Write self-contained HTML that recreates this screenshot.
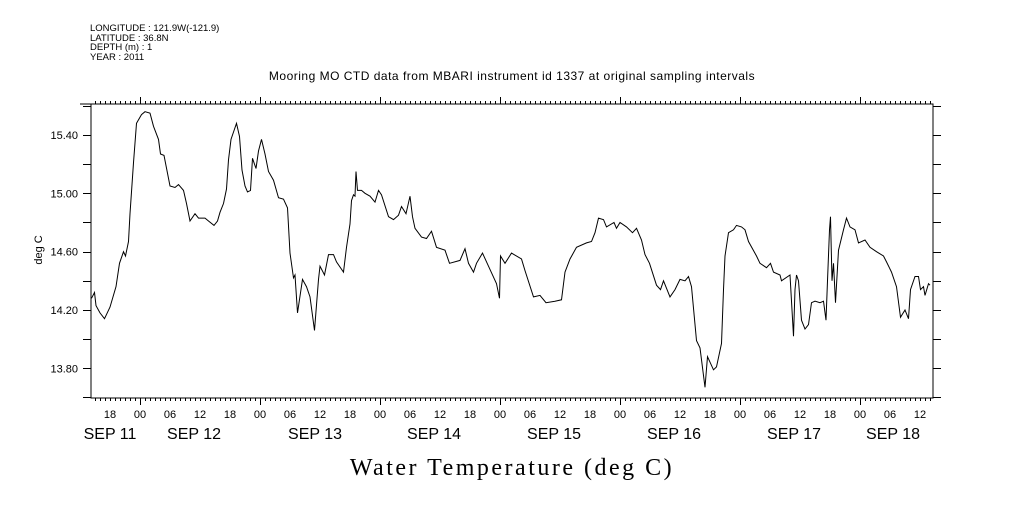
<!DOCTYPE html>
<html><head><meta charset="utf-8"><style>
body{margin:0;background:#fff;width:1009px;height:504px;overflow:hidden}
svg text{font-family:"Liberation Sans",sans-serif;fill:#000}
</style></head><body>
<svg id="chart" width="1009" height="504" viewBox="0 0 1009 504" xmlns="http://www.w3.org/2000/svg">
<g font-size="9.5">
<text x="90" y="31">LONGITUDE : 121.9W(-121.9)</text>
<text x="90" y="41">LATITUDE : 36.8N</text>
<text x="90" y="50">DEPTH (m) : 1</text>
<text x="90" y="60">YEAR : 2011</text>
</g>
<text x="512" y="80" font-size="12" text-anchor="middle" letter-spacing="0.5">Mooring MO CTD data from MBARI instrument id 1337 at original sampling intervals</text>
<text x="0" y="0" font-size="11" text-anchor="middle" transform="translate(42,250) rotate(-90)">deg C</text>
<text x="512" y="475" font-size="24" text-anchor="middle" style="font-family:'Liberation Serif',serif" letter-spacing="2.5">Water Temperature (deg C)</text>
<rect x="91" y="104" width="842" height="294" fill="none" stroke="#000" stroke-width="1"/>
<line x1="80" y1="104" x2="91" y2="104" stroke="#000"/>
<g id="axes"></g>
<path id="series" fill="none" stroke="#000" stroke-width="1"/>
</svg>
<script>
// hours since Sep 11 00:00
const hours=[14.3,14.9,15.2,16,16.9,18,19.2,19.9,20.7,21.1,21.7,22,22.7,23.3,24.3,25,26,26.7,27.7,28.1,28.8,30,31,31.7,32.7,33.3,34,35,35.7,37,37.7,38.8,39.5,40,40.7,41.3,41.7,42.2,42.8,43.3,43.9,44.4,45,45.5,46.1,46.5,47.2,47.7,48.3,49,49.7,50.7,51.7,52.7,53.5,54,54.7,55,55.5,56.5,57.3,58,58.9,59.7,60,60.9,61.7,62.7,63.3,64.7,65.3,66,66.3,66.7,67,67.2,67.5,68.3,69,70,71,71.7,72.3,73.7,74.7,75.7,76.3,77.2,78,78.5,79,80.3,81.3,82.3,83.3,85,85.9,88,89,89.7,90.7,91.3,92.5,93.7,95.3,95.9,96.1,97,98.3,100.3,101,102.7,104,105.2,107,108.3,109,110,111.3,113.3,114.3,115,115.7,116.7,117.3,118.8,119.3,120,121.3,122.5,123.3,124.3,125,125.9,127.3,128.1,128.7,130,131,132,133,133.7,134.3,135.3,136,137,137.5,138.7,139.3,140.3,140.7,141,141.7,142.7,143.3,144.3,145,145.7,147.3,148,149.3,150.1,150.7,152,152.3,154,154.7,155,155.3,155.7,156.3,157,157.7,158.3,159,160,160.7,161.2,161.5,161.9,162.1,162.4,162.7,163.1,163.7,164.7,165.3,166,167,167.7,169,170,171.3,172.7,173.3,174.3,175.3,176.1,177,177.7,178.1,179,179.7,180.1,180.7,181,181.7,182];
const temps=[14.28,14.32,14.23,14.18,14.14,14.22,14.36,14.52,14.60,14.57,14.67,14.86,15.21,15.48,15.54,15.56,15.55,15.46,15.37,15.27,15.26,15.05,15.04,15.06,15.02,14.93,14.81,14.86,14.83,14.83,14.81,14.78,14.81,14.87,14.93,15.03,15.23,15.37,15.43,15.48,15.39,15.16,15.05,15.01,15.02,15.24,15.17,15.29,15.37,15.27,15.15,15.09,14.97,14.96,14.90,14.59,14.42,14.44,14.18,14.41,14.36,14.29,14.06,14.41,14.50,14.44,14.58,14.58,14.53,14.46,14.63,14.79,14.95,14.99,14.98,15.15,15.02,15.02,15.00,14.98,14.94,15.02,14.99,14.84,14.82,14.85,14.91,14.86,14.98,14.84,14.76,14.70,14.69,14.74,14.63,14.61,14.52,14.54,14.62,14.52,14.46,14.52,14.59,14.50,14.38,14.28,14.57,14.52,14.59,14.55,14.47,14.29,14.30,14.25,14.26,14.27,14.46,14.55,14.63,14.66,14.67,14.73,14.83,14.82,14.77,14.80,14.76,14.80,14.77,14.73,14.76,14.68,14.58,14.52,14.37,14.34,14.40,14.29,14.34,14.41,14.40,14.43,14.36,13.99,13.94,13.67,13.88,13.79,13.81,13.97,14.34,14.57,14.73,14.75,14.78,14.77,14.75,14.67,14.57,14.52,14.49,14.52,14.46,14.44,14.40,14.44,14.02,14.34,14.44,14.40,14.13,14.07,14.10,14.25,14.26,14.25,14.26,14.13,14.40,14.75,14.84,14.40,14.52,14.25,14.61,14.75,14.83,14.77,14.75,14.66,14.68,14.63,14.60,14.57,14.53,14.46,14.36,14.15,14.20,14.14,14.34,14.43,14.43,14.34,14.36,14.30,14.38,14.37];
const yTickValues=[13.8,14.2,14.6,15.0,15.4];
const yTickLabels=["13.80","14.20","14.60","15.00","15.40"];
const hourLabels=["18","00","06","12","18","00","06","12","18","00","06","12","18","00","06","12","18","00","06","12","18","00","06","12","18","00","06","12"];
const dayLabels=["SEP 11","SEP 12","SEP 13","SEP 14","SEP 15","SEP 16","SEP 17","SEP 18"];

const X0=91,X1=933,Y0=104,Y1=398;
function xs(h){return 20+5*h;}
function ys(v){return 135+(15.4-v)*145.83;}
const NS="http://www.w3.org/2000/svg";
const axes=document.getElementById('axes');
function mk(tag,attrs){const e=document.createElementNS(NS,tag);for(const k in attrs)e.setAttribute(k,attrs[k]);axes.appendChild(e);return e;}
for(let v=13.6;v<=15.61;v+=0.2){
  const y=Math.round(ys(v))+0.5;
  const t=mk('line',{x1:83,y1:y,x2:X0,y2:y,stroke:'#000'});
  
  
  const r=mk('line',{x1:X1,y1:y,x2:X1+8,y2:y,stroke:'#000'});
  
  
}
yTickValues.forEach((v,i)=>{
  const t=mk('text',{x:78,y:ys(v)+4,'font-size':11,'text-anchor':'end'});
  t.textContent=yTickLabels[i];
  
  
});
for(let h=15;h<=182;h++){
  const x=xs(h)+0.5;
  const major=(h%24===0);
  const len=major?7:3;
  const a=mk('line',{x1:x,y1:Y0-len,x2:x,y2:Y0,stroke:'#000'});
  
  
  const b=mk('line',{x1:x,y1:Y1,x2:x,y2:Y1+len,stroke:'#000'});
  
  
}
hourLabels.forEach((lab,i)=>{
  const h=18+6*i;
  const t=mk('text',{x:xs(h),y:418,'font-size':11,'text-anchor':'middle'});
  t.textContent=lab;
  
  
});
const dayCenters=[110,194,315,434,554,674,794,893];
dayLabels.forEach((lab,i)=>{
  const t=mk('text',{x:dayCenters[i],y:439,'font-size':16,'text-anchor':'middle'});
  t.textContent=lab;
  
  
});
let d='';
hours.forEach((h,i)=>{d+=(i?'L':'M')+xs(h).toFixed(1)+','+ys(temps[i]).toFixed(1);});
document.getElementById('series').setAttribute('d',d);
</script>
</body></html>
